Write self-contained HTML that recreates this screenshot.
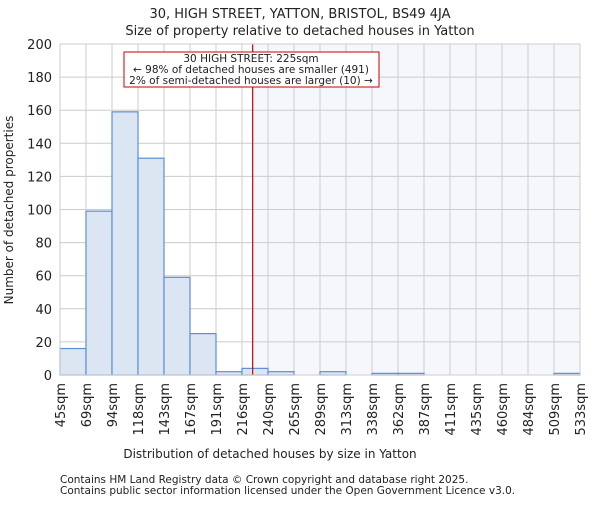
<!DOCTYPE html>
<html><head><meta charset="utf-8"><style>
body{margin:0;background:#fff;font-family:"Liberation Sans","DejaVu Sans",sans-serif}
svg text{font-family:"DejaVu Sans","Liberation Sans",sans-serif;fill:#222}
</style></head><body>
<svg id="c" width="600" height="500">
<text x="300" y="18" text-anchor="middle" font-size="13">30, HIGH STREET, YATTON, BRISTOL, BS49 4JA</text>
<text x="300" y="35" text-anchor="middle" font-size="13">Size of property relative to detached houses in Yatton</text>
<g id="plot"></g>
<text x="270" y="458" text-anchor="middle" font-size="12">Distribution of detached houses by size in Yatton</text>
<text transform="translate(13,210) rotate(-90)" text-anchor="middle" font-size="12">Number of detached properties</text>
<text x="60" y="483" font-size="10.5">Contains HM Land Registry data © Crown copyright and database right 2025.</text>
<text x="60" y="494" font-size="10.5">Contains public sector information licensed under the Open Government Licence v3.0.</text>
</svg>
<script>
const categories=["45sqm","69sqm","94sqm","118sqm","143sqm","167sqm","191sqm","216sqm","240sqm","265sqm","289sqm","313sqm","338sqm","362sqm","387sqm","411sqm","435sqm","460sqm","484sqm","509sqm","533sqm"];
const counts=[16,99,159,131,59,25,2,4,2,0,2,0,1,1,0,0,0,0,0,1];
const yTicks=[0,20,40,60,80,100,120,140,160,180,200];
const markerBin=7.41;
const NS="http://www.w3.org/2000/svg";
const L=60,R=580,T=44,B=375,n=counts.length,bw=(R-L)/n;
const xs=i=>L+i*bw, ys=v=>B-(v/200)*(B-T);
const g=document.getElementById('plot');
function mk(t,a){const e=document.createElementNS(NS,t);for(const k in a)e.setAttribute(k,a[k]);g.appendChild(e);return e;}
const mx=xs(markerBin);
let e=mk('rect',{x:mx,y:T,width:R-mx,height:B-T,fill:'#f5f7fd'});


yTicks.forEach(v=>{let l=mk('line',{x1:L,x2:R,y1:ys(v),y2:ys(v),stroke:'#ccc'});


let t=mk('text',{x:L-8,y:ys(v)+5,'text-anchor':'end','font-size':13});t.textContent=v;

});
categories.forEach((c,i)=>{let l=mk('line',{x1:xs(i),x2:xs(i),y1:T,y2:B,stroke:'#ccc'});


let t=mk('text',{transform:`translate(${xs(i)+5},383) rotate(-90)`,'text-anchor':'end','font-size':13});t.textContent=c;

});
counts.forEach((v,i)=>{if(v<=0)return;let r=mk('rect',{x:xs(i),y:ys(v),width:bw,height:B-ys(v),fill:'#dce6f3',stroke:'#5b8fd6','stroke-width':1.2});

});
e=mk('line',{x1:mx,x2:mx,y1:T,y2:B,stroke:'#cc0000','stroke-width':1.2});


e=mk('rect',{x:124,y:52,width:255,height:35,fill:'#fff',stroke:'#cc0000'});


["30 HIGH STREET: 225sqm","← 98% of detached houses are smaller (491)","2% of semi-detached houses are larger (10) →"].forEach((s,i)=>{let t=mk('text',{x:251,y:62+i*11,'text-anchor':'middle','font-size':10.5});t.textContent=s;

});
e=mk('rect',{x:L,y:T,width:R-L,height:B-T,fill:'none',stroke:'#ccc'});


</script>
</body></html>
